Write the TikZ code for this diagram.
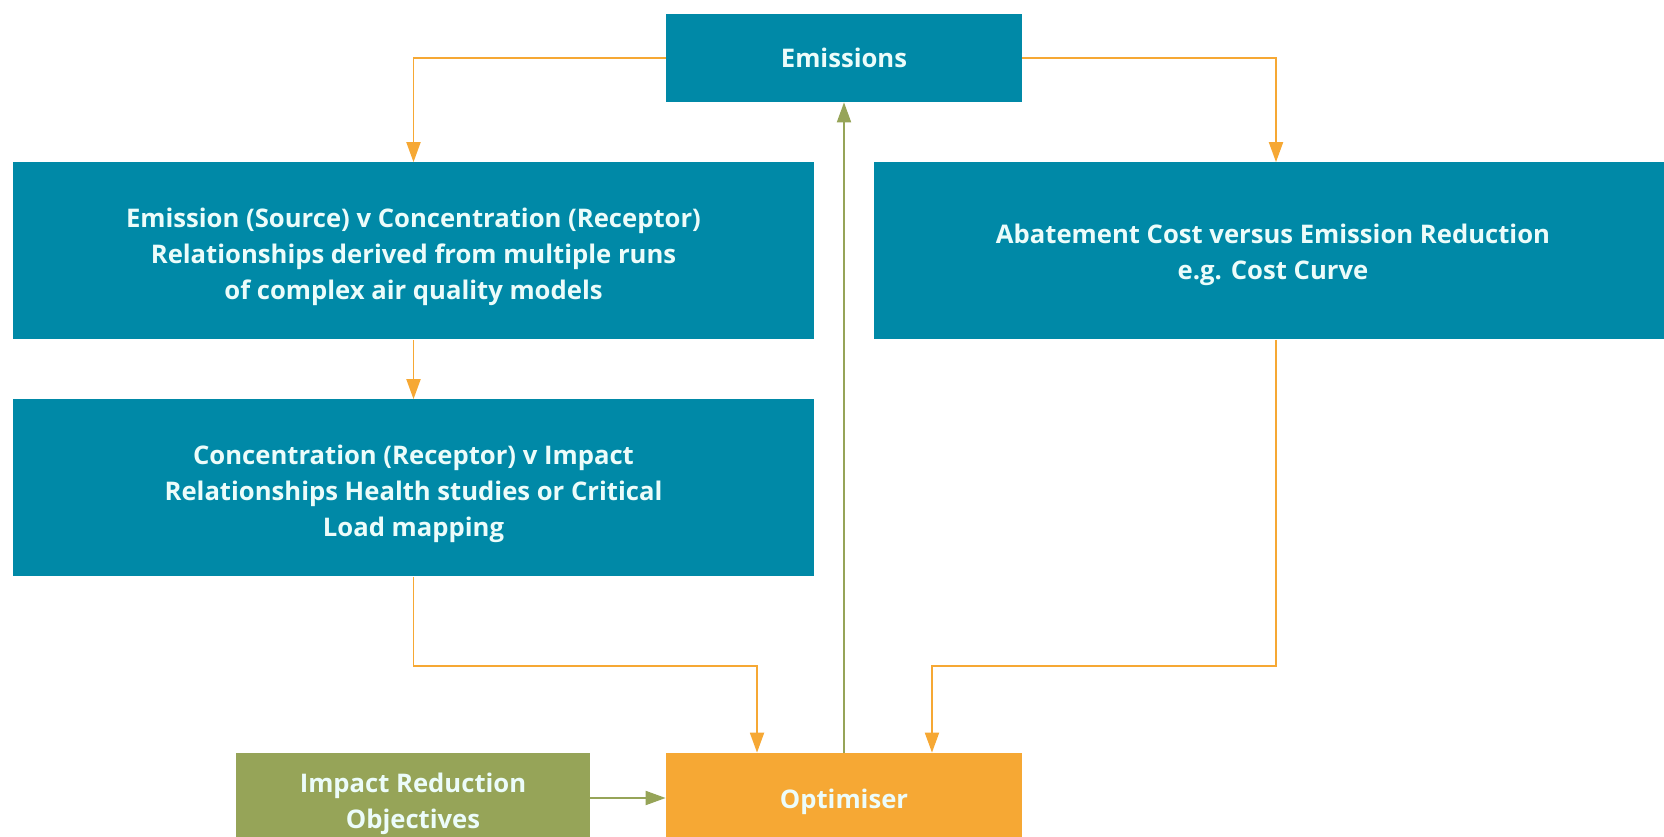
\documentclass[tikz,border=0pt]{standalone}
\usepackage{fontspec}
\setmainfont{Open Sans}
\usetikzlibrary{arrows.meta, positioning}
\definecolor{teal}{RGB}{0,137,167}
\definecolor{amber}{RGB}{246,168,52}
\definecolor{olive}{RGB}{150,164,88}
\definecolor{paper}{RGB}{236,252,250}

\begin{document}
\begin{tikzpicture}[x=0.02cm, y=-0.02cm,
  box/.style={fill=teal, text=paper, font=\bfseries\fontsize{14.6}{20.6}\selectfont, align=center, inner sep=0pt},
  lowtext/.style={text height=#1},
  flow/.style={draw=amber, line width=1.1pt, -{Triangle[length=0.4cm, width=0.28cm]}},
  feed/.style={draw=olive, line width=1.1pt, -{Triangle[length=0.4cm, width=0.28cm]}}]
  \useasboundingbox (0,0) rectangle (1664,837);

  % Boxes
  \node[box, minimum width=356*0.02cm, minimum height=88*0.02cm] (emis) at (844,58) {Emissions};
  \node[box, lowtext=58.6pt, minimum width=801*0.02cm, minimum height=177*0.02cm] (srcrec) at (413.5,251)
    {Emission (Source) v Concentration (Receptor)\\Relationships derived from multiple runs\\of complex air quality models};
  \node[box, lowtext=36.5pt, minimum width=798*0.02cm, minimum height=177*0.02cm] (abate) at (1273,251)
    {Abatement Cost versus Emission Reduction\\e.g. Cost Curve};
  \node[box, lowtext=58.6pt, minimum width=801*0.02cm, minimum height=177*0.02cm] (recimp) at (413.5,488)
    {Concentration (Receptor) v Impact\\Relationships Health studies or Critical\\Load mapping};
  \node[box, fill=amber, lowtext=15.5pt, minimum width=356*0.02cm, minimum height=90*0.02cm] (opt) at (844,798) {Optimiser};
  \node[box, fill=olive, lowtext=38.6pt, minimum width=354*0.02cm, minimum height=90*0.02cm] (impact) at (413,798) {Impact Reduction\\Objectives};

  % Connectors
  \draw[flow] (emis.west) -| (srcrec.north);
  \draw[flow] (emis.east) -| ([xshift=0.06cm]abate.north);
  \draw[flow] (srcrec) -- (recimp);
  \draw[flow] (recimp.south) -- ++(0,89) -| ([xshift=-1.74cm]opt.north);
  \draw[flow] ([xshift=0.06cm]abate.south) -- ++(0,326) -| ([xshift=1.76cm]opt.north);
  \draw[feed] (opt) -- (emis);
  \draw[feed] (impact) -- (opt);
\end{tikzpicture}
\end{document}
